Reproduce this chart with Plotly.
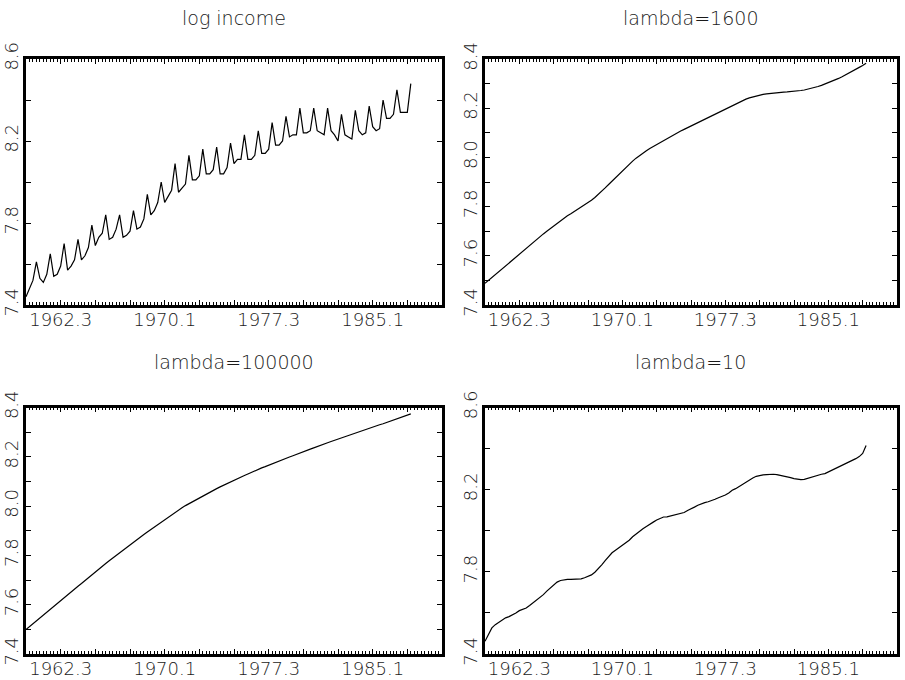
import plotly.graph_objects as go

# quarterly data, 1960.1 - 1987.4
start_year = 1960
log_income = [
    7.44, 7.48, 7.52, 7.61, 7.53, 7.51, 7.55, 7.65, 7.54, 7.55,
    7.59, 7.70, 7.57, 7.59, 7.62, 7.72, 7.62, 7.64, 7.68, 7.79,
    7.69, 7.73, 7.75, 7.84, 7.72, 7.73, 7.77, 7.84, 7.73, 7.74,
    7.76, 7.86, 7.77, 7.78, 7.82, 7.94, 7.84, 7.86, 7.90, 8.00,
    7.90, 7.93, 7.96, 8.09, 7.95, 7.97, 7.99, 8.13, 8.01, 8.01,
    8.03, 8.16, 8.04, 8.04, 8.06, 8.17, 8.04, 8.04, 8.07, 8.19,
    8.09, 8.11, 8.11, 8.23, 8.11, 8.11, 8.13, 8.25, 8.14, 8.14,
    8.16, 8.29, 8.18, 8.18, 8.20, 8.32, 8.22, 8.23, 8.23, 8.36,
    8.24, 8.24, 8.25, 8.36, 8.25, 8.24, 8.23, 8.36, 8.25, 8.23,
    8.20, 8.33, 8.23, 8.22, 8.21, 8.35, 8.25, 8.23, 8.24, 8.37,
    8.27, 8.25, 8.26, 8.40, 8.31, 8.31, 8.33, 8.45, 8.34, 8.34,
    8.34, 8.48,
]
trend_1600 = [
    7.488, 7.500, 7.512, 7.524, 7.536, 7.548, 7.560, 7.572, 7.584, 7.596,
    7.608, 7.620, 7.631, 7.643, 7.655, 7.666, 7.678, 7.689, 7.700, 7.711,
    7.722, 7.733, 7.744, 7.755, 7.763, 7.771, 7.780, 7.788, 7.797, 7.806,
    7.816, 7.826, 7.837, 7.849, 7.862, 7.876, 7.890, 7.904, 7.918, 7.932,
    7.946, 7.959, 7.972, 7.985, 7.997, 8.008, 8.018, 8.027, 8.036, 8.044,
    8.052, 8.060, 8.068, 8.078, 8.086, 8.093, 8.100, 8.107, 8.114, 8.121,
    8.128, 8.135, 8.142, 8.149, 8.156, 8.163, 8.170, 8.177, 8.184, 8.191,
    8.198, 8.205, 8.212, 8.219, 8.225, 8.231, 8.237, 8.242, 8.246, 8.250,
    8.253, 8.256, 8.258, 8.260, 8.262, 8.263, 8.264, 8.265, 8.266, 8.267,
    8.268, 8.270, 8.272, 8.274, 8.277, 8.280, 8.284, 8.288, 8.293, 8.298,
    8.303, 8.309, 8.315, 8.321, 8.328, 8.335, 8.342, 8.350, 8.358, 8.366,
    8.374, 8.383,
]
trend_100000 = [
    7.499, 7.511, 7.522, 7.534, 7.546, 7.557, 7.569, 7.581, 7.593, 7.604,
    7.616, 7.628, 7.640, 7.651, 7.663, 7.675, 7.686, 7.698, 7.710, 7.721,
    7.733, 7.744, 7.756, 7.767, 7.778, 7.789, 7.800, 7.811, 7.822, 7.833,
    7.843, 7.854, 7.864, 7.874, 7.885, 7.895, 7.905, 7.916, 7.926, 7.936,
    7.946, 7.956, 7.966, 7.975, 7.984, 7.993, 8.002, 8.010, 8.018, 8.025,
    8.033, 8.041, 8.048, 8.056, 8.063, 8.071, 8.078, 8.085, 8.092, 8.098,
    8.105, 8.111, 8.118, 8.124, 8.130, 8.137, 8.143, 8.149, 8.155, 8.160,
    8.166, 8.171, 8.177, 8.182, 8.188, 8.193, 8.199, 8.204, 8.210, 8.215,
    8.220, 8.226, 8.231, 8.236, 8.242, 8.247, 8.252, 8.257, 8.262, 8.267,
    8.272, 8.277, 8.282, 8.287, 8.292, 8.297, 8.302, 8.306, 8.311, 8.316,
    8.320, 8.325, 8.330, 8.334, 8.339, 8.344, 8.349, 8.354, 8.359, 8.364,
    8.369, 8.374,
]
trend_10 = [
    7.462, 7.498, 7.527, 7.543, 7.554, 7.566, 7.576, 7.582, 7.590, 7.600,
    7.611, 7.616, 7.624, 7.636, 7.649, 7.660, 7.673, 7.689, 7.706, 7.722,
    7.737, 7.750, 7.758, 7.761, 7.763, 7.763, 7.764, 7.764, 7.766, 7.771,
    7.777, 7.785, 7.798, 7.815, 7.834, 7.855, 7.876, 7.893, 7.905, 7.917,
    7.928, 7.940, 7.954, 7.971, 7.985, 7.998, 8.010, 8.021, 8.033, 8.042,
    8.052, 8.060, 8.067, 8.068, 8.072, 8.075, 8.078, 8.083, 8.089, 8.099,
    8.109, 8.115, 8.124, 8.132, 8.137, 8.141, 8.146, 8.153, 8.161, 8.167,
    8.174, 8.184, 8.197, 8.205, 8.216, 8.228, 8.239, 8.249, 8.257, 8.265,
    8.270, 8.272, 8.273, 8.275, 8.275, 8.273, 8.270, 8.268, 8.263, 8.259,
    8.254, 8.250, 8.249, 8.250, 8.255, 8.262, 8.265, 8.270, 8.275, 8.278,
    8.286, 8.294, 8.301, 8.311, 8.317, 8.325, 8.333, 8.343, 8.351, 8.361,
    8.376, 8.415,
]

titles = ["log income", "lambda=1600", "lambda=100000", "lambda=10"]
x_tick_labels = {1962.5: "1962.3", 1970.0: "1970.1", 1977.5: "1977.3", 1985.0: "1985.1"}
y_labels_a = [7.4, 7.8, 8.2, 8.6]          # panels 1 & 4
y_labels_b = [7.4, 7.6, 7.8, 8.0, 8.2, 8.4]  # panels 2 & 3

series = [log_income, trend_1600, trend_100000, trend_10]
xq = [start_year + i / 4 for i in range(len(log_income))]

W, H = 905, 680
ml, mr, mt, mb = 26, 8, 59, 26
pw, ph = W - ml - mr, H - mt - mb

def xd(a, b):
    return [(a - ml) / pw, (b - ml) / pw]

def yd(top, bot):
    return [(H - mb - bot) / ph, (H - mb - top) / ph]

boxes = [
    (xd(26, 442), yd(59, 305)),
    (xd(485, 897), yd(59, 305)),
    (xd(26, 442), yd(407.5, 654)),
    (xd(485, 897), yd(407.5, 654)),
]

font = dict(family="DejaVu Sans", size=18, color="#1a1a1a", weight=200)
tfont = dict(family="DejaVu Sans", size=19, color="#1a1a1a", weight=200)
fig = go.Figure()
layout = dict(
    width=W, height=H, margin=dict(l=ml, r=mr, t=mt, b=mb, autoexpand=False),
    paper_bgcolor="white", plot_bgcolor="white", showlegend=False,
    font=font, annotations=[],
)

xt_vals = [start_year + 2.5 * k for k in range(13)]
xt_text = [x_tick_labels.get(v, "") for v in xt_vals]

for i, (ys, title, (dx, dy)) in enumerate(zip(series, titles, boxes)):
    n = "" if i == 0 else str(i + 1)
    fig.add_trace(go.Scatter(x=xq, y=ys, mode="lines",
                             line=dict(color="black", width=1.2),
                             xaxis="x" + n, yaxis="y" + n))
    if i in (0, 3):
        yr = [7.4, 8.6]
        step, cnt, lab = 0.2, 7, y_labels_a
    else:
        yr = [7.4, 8.4]
        step, cnt, lab = 0.1, 11, y_labels_b
    yv = [round(7.4 + step * k, 2) for k in range(cnt)]
    yt = [f"{v:.1f}" if any(abs(v - l) < 1e-6 for l in lab) else "" for v in yv]
    layout["xaxis" + n] = dict(
        domain=dx, anchor="y" + n, range=[1960, 1990], automargin=False,
        showline=True, linewidth=2.6, linecolor="black", mirror="allticks",
        ticks="inside", ticklen=5, tickwidth=1, tickcolor="black",
        tickmode="array", tickvals=xt_vals, ticktext=xt_text,
        ticklabelstandoff=-3,
        minor=dict(ticks="inside", ticklen=3, tickwidth=1, tickcolor="black",
                   tick0=1960, dtick=0.25, showgrid=False),
        showgrid=False, zeroline=False, tickfont=font, fixedrange=True,
    )
    layout["yaxis" + n] = dict(
        domain=dy, anchor="x" + n, range=yr, automargin=False,
        showline=True, linewidth=2.6, linecolor="black", mirror="allticks",
        ticks="inside", ticklen=5, tickwidth=1, tickcolor="black",
        tickmode="array", tickvals=yv, ticktext=yt, tickangle=-90,
        ticklabelstandoff=-2,
        showgrid=False, zeroline=False, tickfont=font, fixedrange=True,
    )
    title_y = (H - mb - (18 if i < 2 else 362)) / ph
    layout["annotations"].append(dict(
        text=title, x=(dx[0] + dx[1]) / 2, y=title_y, xref="paper", yref="paper",
        xanchor="center", yanchor="middle", showarrow=False, font=tfont,
    ))

fig.update_layout(**layout)
fig.write_html("out.html", config={"displayModeBar": False},
               post_script="document.body.style.margin='0';document.body.style.padding='0';")
